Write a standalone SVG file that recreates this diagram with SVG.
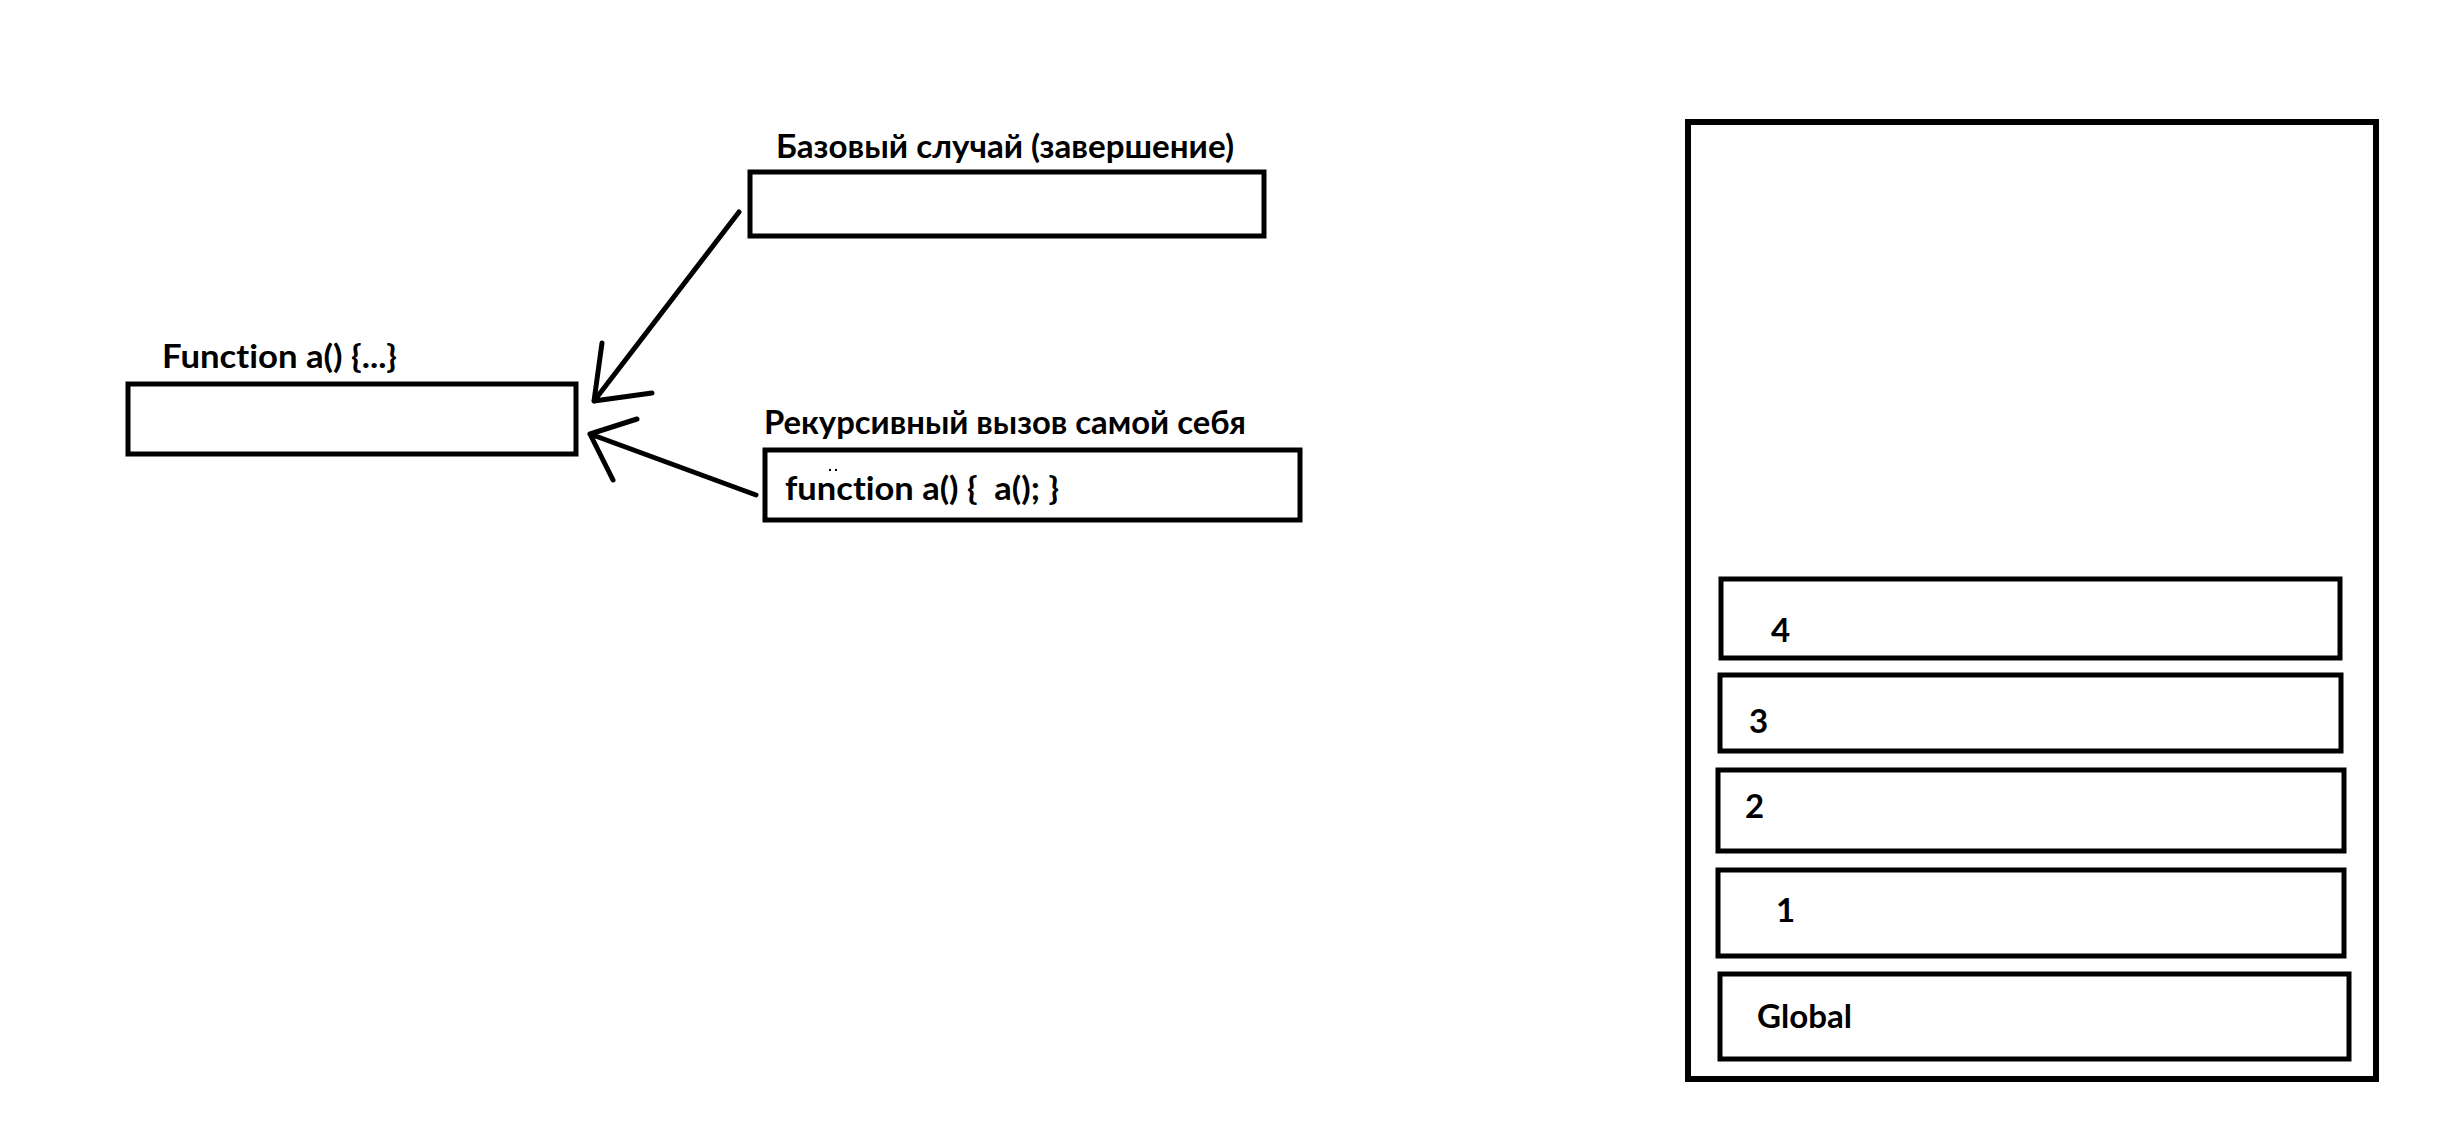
<svg xmlns="http://www.w3.org/2000/svg" width="2449" height="1148" viewBox="0 0 2449 1148">
<style>
.box{fill:#fff;stroke:#000;stroke-width:5}
.outer{fill:#fff;stroke:#000;stroke-width:6}
.t{font-family:Lato,"Noto Sans","Liberation Sans",sans-serif;font-weight:bold;font-size:33px;fill:#000;font-variant-ligatures:none;font-feature-settings:"liga" 0,"clig" 0;white-space:pre}
.ln{fill:none;stroke:#000;stroke-width:5;stroke-linecap:round;stroke-linejoin:round}
</style>
<rect width="2449" height="1148" fill="#fff"/>
<g id="stack">
<rect class="outer" x="1688" y="122" width="688" height="957"/>
</g>
<g id="frame4"><rect class="box" x="1721" y="579" width="619" height="79"/><text class="t" x="1771" y="642">4</text></g>
<g id="frame3"><rect class="box" x="1720" y="675" width="621" height="76"/><text class="t" x="1749" y="733">3</text></g>
<g id="frame2"><rect class="box" x="1718" y="770" width="626" height="81"/><text class="t" x="1745" y="818">2</text></g>
<g id="frame1"><rect class="box" x="1718" y="870" width="626" height="86"/><text class="t" x="1776" y="922">1</text></g>
<g id="global"><rect class="box" x="1720" y="974" width="629" height="85"/><text class="t" x="1757" y="1028" textLength="95" lengthAdjust="spacingAndGlyphs">Global</text></g>
<g id="func">
<text class="t" x="162" y="368" textLength="235" lengthAdjust="spacingAndGlyphs">Function a() {...}</text>
<rect class="box" x="128" y="384" width="448" height="70"/>
</g>
<g id="base">
<text class="t" x="776" y="158" textLength="458" lengthAdjust="spacingAndGlyphs">Базовый случай (завершение)</text>
<rect class="box" x="750" y="172" width="514" height="64"/>
</g>
<g id="recursive">
<text class="t" x="764" y="434" textLength="482" lengthAdjust="spacingAndGlyphs">Рекурсивный вызов самой себя</text>
<rect class="box" x="765" y="450" width="535" height="70"/>
<rect x="829" y="469" width="2" height="2" fill="#000"/><rect x="835" y="469" width="2" height="2" fill="#000"/>
<text class="t" x="785" y="500" textLength="274" lengthAdjust="spacingAndGlyphs" xml:space="preserve">function a() {  a(); }</text>
</g>
<g id="connectors">
<path class="ln" d="M739 212 L594 401 M602 343 L594 401 L652 393"/>
<path class="ln" d="M756 495 L590 434 M637 419 L590 434 L613 480"/>
</g>
</svg>
